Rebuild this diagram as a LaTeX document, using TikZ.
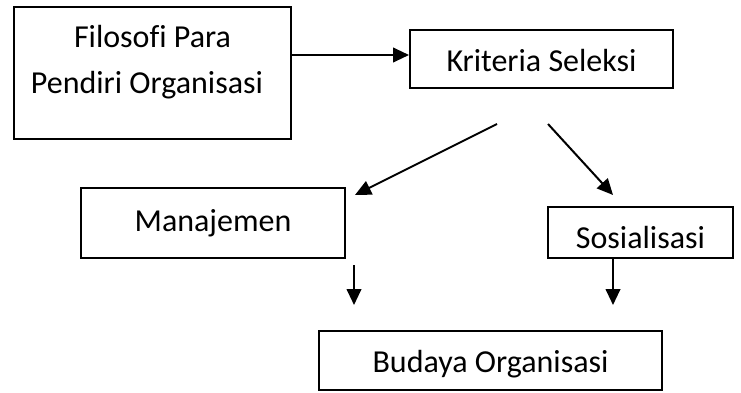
\documentclass[tikz,border=0pt]{standalone}
\usepackage{fontspec}
\setmainfont{Carlito}[Ligatures=NoCommon]
\usetikzlibrary{arrows.meta}
\begin{document}
\begin{tikzpicture}[x=0.75pt,y=-0.75pt,
  box/.style={draw=black,line width=1.5pt,inner sep=0pt,text depth=0pt,
    font=\fontsize{24}{34.5}\selectfont},
  txt/.style={inner sep=0pt,anchor=base,font=\fontsize{24}{34.5}\selectfont},
  arr/.style={line width=1.5pt,-{Triangle[length=12pt,width=11pt]}}]
\useasboundingbox (0,0) rectangle (741,392);
% boxes
\node[box,minimum width=277*0.75pt,minimum height=132*0.75pt] (filo) at (152.5,73) {};
\node[txt] (filoA) at (152.5,48) {Filosofi Para};
\node[txt] (filoB) at (147,94) {Pendiri Organisasi};
\node[box,minimum width=263*0.75pt,minimum height=58*0.75pt,text height=19.5pt] (krit) at (541.5,59) {Kriteria Seleksi};
\node[box,minimum width=264*0.75pt,minimum height=70*0.75pt,text height=12pt] (man) at (213,223) {Manajemen};
\node[box,minimum width=185*0.75pt,minimum height=51*0.75pt,text height=23.25pt] (sos) at (640.5,232.5) {Sosialisasi};
\node[box,minimum width=343*0.75pt,minimum height=59*0.75pt,text height=17.25pt] (bud) at (490.5,360.5) {Budaya Organisasi};
% free arrow ends
\coordinate (kL) at (497,124);
\coordinate (kR) at (548,124);
\coordinate (mT) at (355,195);
\coordinate (sT) at (613,195);
\coordinate (mD1) at (354,265);
\coordinate (mD2) at (354,305);
\coordinate (sD1) at (613,258);
\coordinate (sD2) at (613,305);
% connectors
\draw[arr] ([yshift=3pt]filo.east |- krit.west) -- ([yshift=3pt]krit.west);
\draw[arr] (kL) -- (mT);
\draw[arr] (kR) -- (sT);
\draw[arr] (mD1) -- (mD2);
\draw[arr] (sD1) -- (sD2);
\end{tikzpicture}
\end{document}
